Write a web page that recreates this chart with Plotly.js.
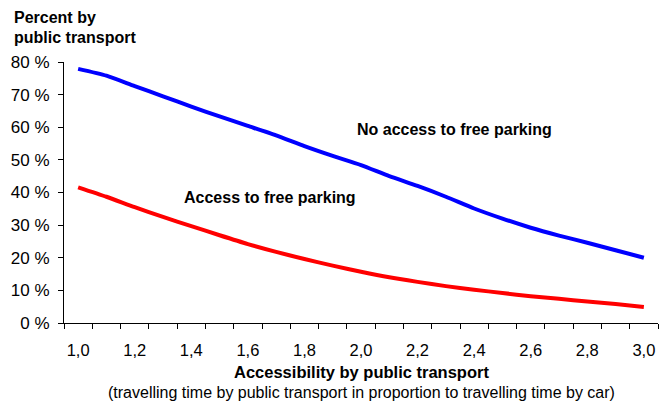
<!DOCTYPE html>
<html>
<head>
<meta charset="utf-8">
<script src="https://cdn.plot.ly/plotly-3.0.1.min.js"></script>
<style>html,body{margin:0;padding:0;background:#fff;}#chart{width:661px;height:403px;}</style>
</head>
<body>
<div id="chart"></div>
<script>
// Accessibility categories (travel time ratio public transport / car)
const accessibility = [1.0,1.1,1.2,1.3,1.4,1.5,1.6,1.7,1.8,1.9,2.0,2.1,2.2,2.3,2.4,2.5,2.6,2.7,2.8,2.9,3.0];
// Percent by public transport, no access to free parking
const noFreeParking = [77.9,75.8,72.6,69.5,66.3,63.3,60.4,57.5,54.2,51.2,48.4,45.0,42.0,38.7,35.1,32.0,29.2,26.8,24.6,22.3,20.0];
// Percent by public transport, access to free parking
const freeParking = [41.6,38.7,35.5,32.5,29.7,26.9,24.2,21.8,19.6,17.6,15.7,14.0,12.6,11.3,10.2,9.2,8.2,7.4,6.6,5.8,4.9];
// Tick labels
const xTickVals = [1.0,1.2,1.4,1.6,1.8,2.0,2.2,2.4,2.6,2.8,3.0];
const xTickText = ["1,0","1,2","1,4","1,6","1,8","2,0","2,2","2,4","2,6","2,8","3,0"];
const yTickVals = [0,10,20,30,40,50,60,70,80];
const yTickText = ["0 %","10 %","20 %","30 %","40 %","50 %","60 %","70 %","80 %"];

// category boundaries for tick marks
const boundaries = [accessibility[0]-0.05].concat(accessibility.map(v => +(v+0.05).toFixed(2)));

const font = "Liberation Sans, Arial, sans-serif";
const traces = [
  {x: accessibility, y: noFreeParking, type: 'scatter', mode: 'lines',
   line: {color: '#0000ff', width: 4, shape: 'spline', smoothing: 0.6}, hoverinfo: 'skip'},
  {x: accessibility, y: freeParking, type: 'scatter', mode: 'lines', xaxis: 'x2',
   line: {color: '#ff0000', width: 4, shape: 'spline', smoothing: 0.6}, hoverinfo: 'skip'}
];
const xr = [0.95, 3.05];
const layout = {
  width: 661, height: 403,
  margin: {l: 64, r: 3, t: 62, b: 80},
  paper_bgcolor: '#fff', plot_bgcolor: '#fff',
  showlegend: false,
  font: {family: font, color: '#000', size: 16},
  xaxis: {range: xr, tickmode: 'array', tickvals: xTickVals, ticktext: xTickText,
    ticks: '', showline: true, linecolor: '#000', linewidth: 1, showgrid: false, zeroline: false,
    tickfont: {size: 16.5, family: font}, ticklabelstandoff: 12, fixedrange: true},
  xaxis2: {range: xr, overlaying: 'x', anchor: 'y', side: 'bottom', tickmode: 'array',
    tickvals: boundaries, ticks: 'outside', ticklen: 5, tickcolor: '#000', tickwidth: 1,
    showticklabels: false, showline: false, showgrid: false, zeroline: false, fixedrange: true},
  yaxis: {range: [0, 80], tickmode: 'array', tickvals: yTickVals, ticktext: yTickText,
    ticks: 'outside', ticklen: 5, tickcolor: '#000', tickwidth: 1,
    showline: true, linecolor: '#000', linewidth: 1, showgrid: false, zeroline: false,
    tickfont: {size: 17, family: font}, ticklabelstandoff: 5, fixedrange: true},
  annotations: [
    {text: '<b>Percent by</b>', xref: 'paper', yref: 'paper', x: -0.0875, y: 1.172,
     xanchor: 'left', yanchor: 'middle', showarrow: false, font: {size: 16, family: font}},
    {text: '<b>public transport</b>', xref: 'paper', yref: 'paper', x: -0.0875, y: 1.092,
     xanchor: 'left', yanchor: 'middle', showarrow: false, font: {size: 16, family: font}},
    {text: '<b>Accessibility by public transport</b>', xref: 'paper', yref: 'paper', x: 0.5, y: -0.1877,
     xanchor: 'center', yanchor: 'middle', showarrow: false, font: {size: 16.5, family: font}},
    {text: '(travelling time by public transport in proportion to travelling time by car)', xref: 'paper', yref: 'paper', x: 0.5, y: -0.268,
     xanchor: 'center', yanchor: 'middle', showarrow: false, font: {size: 16, family: font}},
    {text: '<b>No access to free parking</b>', xref: 'x', yref: 'y', x: 2.33, y: 59.2,
     xanchor: 'center', yanchor: 'middle', showarrow: false, font: {size: 16, family: font}},
    {text: '<b>Access to free parking</b>', xref: 'x', yref: 'y', x: 1.678, y: 38.6,
     xanchor: 'center', yanchor: 'middle', showarrow: false, font: {size: 16, family: font}}
  ]
};
Plotly.newPlot('chart', traces, layout, {staticPlot: true, displayModeBar: false});
</script>
</body>
</html>
